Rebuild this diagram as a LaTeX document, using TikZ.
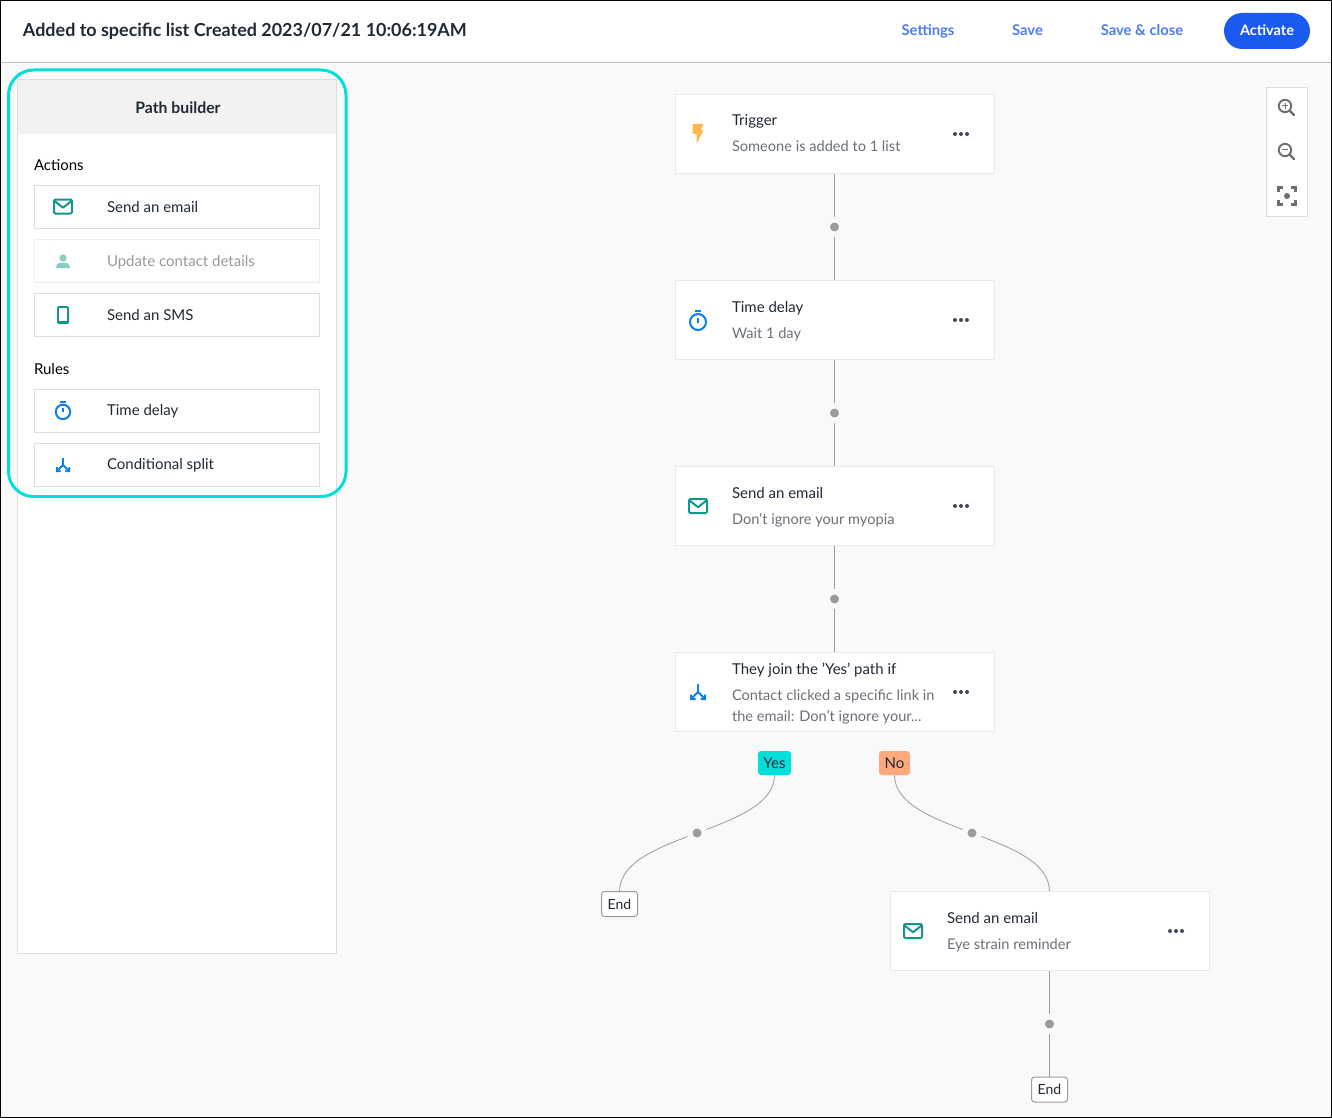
\documentclass[tikz,border=0pt]{standalone}
\usepackage{fontspec}
\setmainfont{Lato}
\pgfdeclarelayer{back}\pgfdeclarelayer{conn}
\pgfsetlayers{back,conn,main}
\definecolor{bgc}{HTML}{F9F9F9}
\definecolor{cardline}{HTML}{E8E9EB}
\definecolor{panelline}{HTML}{DDDDDD}
\definecolor{dotc}{HTML}{9B9B9B}
\definecolor{titlec}{HTML}{1F2A37}
\definecolor{subc}{HTML}{6B7078}
\definecolor{tealc}{HTML}{12978A}
\definecolor{bluec}{HTML}{0B80E8}
\definecolor{linkc}{HTML}{4B7BF5}
\definecolor{actc}{HTML}{1A5AF0}
\definecolor{cyanc}{HTML}{00E0D8}
\definecolor{orangec}{HTML}{FFA87C}
\definecolor{boltc}{HTML}{FFB84D}
\definecolor{personc}{HTML}{8CCCC5}
\definecolor{zoomc}{HTML}{6E6E6E}
\tikzset{
  x=1pt,y=-1pt,
  every node/.style={inner sep=0pt,outer sep=0pt},
  card/.style={draw=cardline,fill=white,line width=1pt,minimum width=319pt,minimum height=79pt},
  actbox/.style={draw=panelline,fill=white,line width=1pt,minimum width=285pt,minimum height=43pt},
  actboxoff/.style={actbox,draw=panelline!50},
  ttl/.style={anchor=base west,text=titlec,font=\fontsize{15}{18}\selectfont},
  sub/.style={anchor=base west,text=subc,font=\fontsize{14.6}{18}\selectfont},
  hd/.style={anchor=base west,text=black,font=\fontsize{15}{18}\selectfont},
  lnk/.style={anchor=base,text=linkc,font=\fontsize{14.8}{18}\bfseries\selectfont},
  pt/.style={circle,fill=dotc,draw=bgc,line width=5.5pt,minimum size=14.5pt},
  conn/.style={draw=dotc,line width=1pt},
  connthin/.style={draw=dotc,line width=0.8pt},
  badge/.style={rounded corners=3pt,minimum height=24pt,text=titlec,font=\fontsize{15}{18}\selectfont},
  endbox/.style={draw=dotc,fill=white,line width=1pt,rounded corners=3pt,minimum width=36pt,minimum height=25pt,text=titlec,font=\fontsize{14}{18}\selectfont},
}
\newcommand{\icEnv}[2]{\begin{scope}[shift={(#1,#2)}]
  \draw[tealc,line width=2pt,rounded corners=1.2pt,line join=round] (-9,-7) rectangle (9,7);
  \draw[tealc,line width=2pt,line join=round] (-8.5,-5.5) -- (0,1.2) -- (8.5,-5.5);
\end{scope}}
\newcommand{\icClock}[3]{\begin{scope}[shift={(#1,#2)},scale=#3]
  \draw[bluec,line width=2pt] (0,1) circle (8pt);
  \draw[bluec,line width=2pt] (-3,-10) -- (3,-10);
  \draw[bluec,line width=1.6pt] (0,-3) -- (0,1.5);
\end{scope}}
\newcommand{\icSplit}[3]{\begin{scope}[shift={(#1,#2)},scale=#3]
  \draw[bluec,line width=1.8pt,line join=round] (0,-8) -- (0,0) -- (-6.5,6.5);
  \draw[bluec,line width=1.8pt] (0,0) -- (6.5,6.5);
  \fill[bluec] (-8,2.5) -- (-6,2.5) -- (-6,6) -- (-2.5,6) -- (-2.5,8) -- (-8,8) -- cycle;
  \fill[bluec] (8,2.5) -- (6,2.5) -- (6,6) -- (2.5,6) -- (2.5,8) -- (8,8) -- cycle;
\end{scope}}
\newcommand{\icDots}[2]{\begin{scope}[shift={(#1,#2)}]
  \fill[titlec!85] (-6,0) circle (2pt) (0,0) circle (2pt) (6,0) circle (2pt);
\end{scope}}
\newcommand{\icLens}[3]{\begin{scope}[shift={(#1,#2)}]
  \draw[zoomc,line width=1.9pt] (0,0) circle (6.2pt);
  \draw[zoomc,line width=2.2pt,line cap=round] (5,5) -- (9,9);
  \draw[zoomc,line width=1pt] (-3,0) -- (3,0);
  #3
\end{scope}}
\begin{document}
\begin{tikzpicture}
\useasboundingbox (0,0) rectangle (1332,1118);
\begin{pgfonlayer}{back}
  \fill[bgc] (0,0) rectangle (1332,1118);
  \fill[white] (0,0) rectangle (1332,62);
  \draw[black!25,line width=1pt] (0,62.5) -- (1332,62.5);
  \draw[panelline,fill=white,line width=1pt] (17.5,79.5) rectangle (336.5,953.5);
  \fill[black!5] (18,80) rectangle (336,134);
\end{pgfonlayer}

% header
\node[anchor=base west,text=titlec,font=\fontsize{17.95}{22}\bfseries\selectfont] (doc) at (23,37) {Added to specific list Created 2023/07/21 10:06:19AM};
\node[lnk] (settings) at (928,36) {Settings};
\node[lnk] (save) at (1027.5,36) {Save};
\node[lnk] (saveclose) at (1142,36) {Save \& close};
\node[fill=actc,rounded corners=18pt,minimum width=86pt,minimum height=36pt] (activate) at (1267,31) {};
\node[anchor=base,text=white,font=\fontsize{14.5}{18}\bfseries\selectfont] (activatet) at (1267,36) {Activate};

% path builder
\node[anchor=center,text=titlec,font=\fontsize{15.8}{18}\bfseries\selectfont] (pb) at (178,107.5) {Path builder};
\node[hd] (actions) at (34,171) {Actions};
\node[actbox] (a1) at (177,207) {};
\node[actboxoff] (a2) at (177,261) {};
\node[actbox] (a3) at (177,315) {};
\node[hd] (rules) at (34,374) {Rules};
\node[actbox] (a4) at (177,411) {};
\node[actbox] (a5) at (177,465) {};
\node[ttl] (a1t) at (107,212) {Send an email};
\node[ttl,text=black!40] (a2t) at (107,266) {Update contact details};
\node[ttl] (a3t) at (107,320) {Send an SMS};
\node[ttl] (a4t) at (107,415) {Time delay};
\node[ttl] (a5t) at (107,469) {Conditional split};
\icEnv{63}{206.5}
\fill[personc] (63,258) circle (3.6pt);
\fill[personc] (56,268) .. controls (56,263) and (60,262.5) .. (63,262.5) .. controls (66,262.5) and (70,263) .. (70,268) -- cycle;
\fill[tealc,rounded corners=1.5pt] (57,306) rectangle (69,324);
\fill[white] (58.8,307.5) rectangle (67.2,320.5);
\icClock{63}{411}{0.9}
\icSplit{63}{465}{0.875}
\draw[cyanc,line width=3pt,rounded corners=25pt] (8.5,70) rectangle (346,496.5);

% flow cards
\node[card] (c1) at (835,134) {};
\node[card] (c2) at (835,320) {};
\node[card] (c3) at (835,506) {};
\node[card] (c4) at (835,692) {};
\node[card] (c5) at (1050,931) {};
\node[ttl] (c1a) at (732,126) {Trigger};
\node[sub] (c1b) at (732,152) {Someone is added to 1 list};
\node[ttl] (c2a) at (732,312) {Time delay};
\node[sub] (c2b) at (732,338) {Wait 1 day};
\node[ttl] (c3a) at (732,498) {Send an email};
\node[sub] (c3b) at (732,524) {Don't ignore your myopia};
\node[ttl] (c4a) at (732,674) {They join the 'Yes' path if};
\node[sub] (c4b) at (732,700) {Contact clicked a specific link in};
\node[sub] (c4c) at (732,721) {the email: Don't ignore your...};
\node[ttl] (c5a) at (947,923) {Send an email};
\node[sub] (c5b) at (947,949) {Eye strain reminder};
\icDots{961}{134}\icDots{961}{320}\icDots{961}{506}\icDots{961}{692}\icDots{1176}{931}
\fill[boltc] (692.7,124) -- (703.3,124) -- (700.8,130.5) -- (703.3,130.5) -- (696.6,143.5) -- (696.6,134) -- (692.7,134) -- cycle;
\icClock{698}{321}{1}
\icEnv{698}{506}
\icSplit{698}{692}{1}
\icEnv{913}{931}

\node[pt] (d1) at (834.5,227) {};
\node[pt] (d2) at (834.5,413) {};
\node[pt] (d3) at (834.5,599) {};
\node[pt] (d4) at (697,833) {};
\node[pt] (d5) at (972,833) {};
\node[pt] (d6) at (1049.5,1024) {};
\node[badge,fill=cyanc,minimum width=33pt] (yes) at (774.5,763) {Yes};
\node[badge,fill=orangec,minimum width=31pt] (no) at (894.5,763) {No};
\node[endbox] (e1) at (619.5,904) {End};
\node[endbox] (e2) at (1049.5,1089.5) {End};

\begin{pgfonlayer}{conn}
  \draw[conn] (c1.south -| d1) -- (d1.center);
  \draw[conn] (d1.center) -- (c2.north -| d1);
  \draw[conn] (c2.south -| d1) -- (d2.center);
  \draw[conn] (d2.center) -- (c3.north -| d2);
  \draw[conn] (c3.south -| d2) -- (d3.center);
  \draw[conn] (d3.center) -- (c4.north -| d3);
  \draw[connthin] (yes.south) .. controls (774.5,804) and (735.75,818.5) .. (d4.center);
  \draw[connthin] (d4.center) .. controls (658.25,847.5) and (619.5,862) .. (e1.north);
  \draw[connthin] (no.south) .. controls (894.5,804) and (933.25,818.5) .. (d5.center);
  \draw[connthin] (d5.center) .. controls (1010.75,847.5) and (1049.5,862) .. (c5.north -| e2);
  \draw[conn] (c5.south -| d6) -- (d6.center);
  \draw[conn] (d6.center) -- (e2.north);
\end{pgfonlayer}

% zoom panel
\node[draw=panelline,fill=white,line width=1pt,minimum width=41pt,minimum height=129pt] (zp) at (1287,152) {};
\icLens{1285}{106}{\draw[zoomc,line width=1pt] (0,-3) -- (0,3);}
\icLens{1285}{150}{}
\begin{scope}[shift={(1287,196)}]
  \draw[zoomc,line width=2.2pt] (-8.5,-4) -- (-8.5,-8.5) -- (-4,-8.5);
  \draw[zoomc,line width=2.2pt] (8.5,-4) -- (8.5,-8.5) -- (4,-8.5);
  \draw[zoomc,line width=2.2pt] (-8.5,4) -- (-8.5,8.5) -- (-4,8.5);
  \draw[zoomc,line width=2.2pt] (8.5,4) -- (8.5,8.5) -- (4,8.5);
  \fill[zoomc] (0,0) circle (3pt);
\end{scope}
\draw[black,line width=1pt] (0.5,0.5) rectangle (1331.5,1117.5);
\end{tikzpicture}
\end{document}
